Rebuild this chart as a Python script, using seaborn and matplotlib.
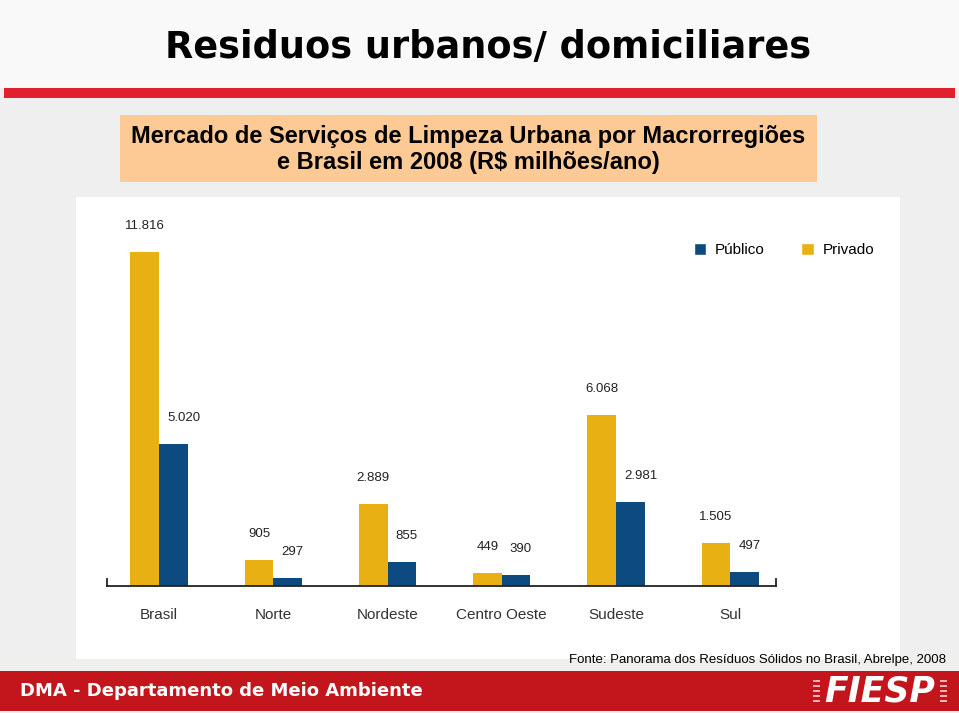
import pandas as pd
import matplotlib.pyplot as plt
import seaborn as sns
from matplotlib.patches import Rectangle, Patch

# values in R$ milhoes/ano
regioes = ['Brasil', 'Norte', 'Nordeste', 'Centro Oeste', 'Sudeste', 'Sul']
privado = [11816, 905, 2889, 449, 6068, 1505]
publico = [5020, 297, 855, 390, 2981, 497]

df = pd.DataFrame({
    'Regiao': regioes * 2,
    'Tipo': ['Privado'] * len(regioes) + ['Público'] * len(regioes),
    'Valor': privado + publico,
})

amarelo = '#e8b013'
azul = '#0d4a80'

sns.set_style('white')
plt.rcParams['font.family'] = ['Liberation Sans', 'DejaVu Sans']
plt.rcParams['text.color'] = 'black'

W, H = 959, 713
fig = plt.figure(figsize=(W / 100, H / 100), dpi=100)
fig.patch.set_facecolor('#efefef')


def fx(x):
    return x / W


def fy(y):
    return 1 - y / H


def box(x0, y0, x1, y1, color):
    fig.add_artist(Rectangle((fx(x0), fy(y1)), fx(x1) - fx(x0), fy(y0) - fy(y1),
                             transform=fig.transFigure, facecolor=color,
                             edgecolor='none', zorder=0))


# slide background pieces
box(0, 0, W, 88, '#f9f9f9')
box(4, 88, 955, 98, '#e0202c')
box(120, 115, 817, 182, '#fdc994')
box(76, 197, 900, 659, 'white')
box(0, 671, W, 711, '#c2161c')

fig.text(fx(488), fy(47), 'Residuos urbanos/ domiciliares', ha='center', va='center',
         fontsize=26.4, fontweight='bold', color='black', family='DejaVu Sans')
fig.text(fx(468), fy(137), 'Mercado de Serviços de Limpeza Urbana por Macrorregiões',
         ha='center', va='center', fontsize=17, fontweight='bold', color='black')
fig.text(fx(468), fy(163), 'e Brasil em 2008 (R$ milhões/ano)',
         ha='center', va='center', fontsize=17, fontweight='bold', color='black')
fig.text(fx(946), fy(660), 'Fonte: Panorama dos Resíduos Sólidos no Brasil, Abrelpe, 2008',
         ha='right', va='center', fontsize=9.5, color='black')
fig.text(fx(20), fy(691), 'DMA - Departamento de Meio Ambiente', ha='left', va='center',
         fontsize=13, fontweight='bold', color='white', family='DejaVu Sans')
fig.text(fx(880), fy(691), 'FIESP', ha='center', va='center', fontsize=25,
         fontweight='bold', fontstyle='italic', color='white', family='DejaVu Sans')
for k in range(5):
    box(813, 680 + k * 5, 820, 682 + k * 5, '#f3b3b3')
    box(940, 680 + k * 5, 947, 682 + k * 5, '#f3b3b3')

# chart
ax = fig.add_axes([fx(107), fy(586), fx(776) - fx(107), fy(240) - fy(586)])
sns.barplot(data=df, x='Regiao', y='Valor', hue='Tipo', hue_order=['Privado', 'Público'],
            palette={'Privado': amarelo, 'Público': azul}, width=0.5, gap=0,
            saturation=1, legend=False, linewidth=0, ax=ax)
ax.set_xlim(-0.455, 5.40)
ax.set_ylim(0, 12250)
ax.set_facecolor('none')
ax.set_xlabel('')
ax.set_ylabel('')
ax.set_yticks([])
ax.tick_params(axis='x', length=0, pad=16, labelsize=11, labelcolor='#333333')
ax.spines['top'].set_visible(False)
for side in ['left', 'right', 'bottom']:
    ax.spines[side].set_color('#222222')
    ax.spines[side].set_linewidth(1.3)
ax.spines['left'].set_bounds(0, 250)
ax.spines['right'].set_bounds(0, 250)

for cont, tipo in zip(ax.containers, ['Privado', 'Público']):
    for bar in cont:
        v = bar.get_height()
        txt = f'{v:,.0f}'.replace(',', '.')
        if tipo == 'Privado':
            ax.annotate(txt, (bar.get_x() + bar.get_width() / 2, v), xytext=(0, 26),
                        textcoords='offset pixels', ha='center', va='center',
                        fontsize=9.5, color='#222222')
        else:
            ax.annotate(txt, (bar.get_x(), v), xytext=(8, 26),
                        textcoords='offset pixels', ha='left', va='center',
                        fontsize=9.5, color='#222222')

handles = [Patch(facecolor=azul), Patch(facecolor=amarelo)]
fig.legend(handles, ['Público', 'Privado'], loc='center', ncol=2, frameon=False,
           bbox_to_anchor=(fx(784), fy(250)), fontsize=11, handlelength=0.8,
           handleheight=0.8, handletextpad=0.6, columnspacing=2.4)

fig.savefig('out.png', dpi=100, facecolor=fig.get_facecolor())
